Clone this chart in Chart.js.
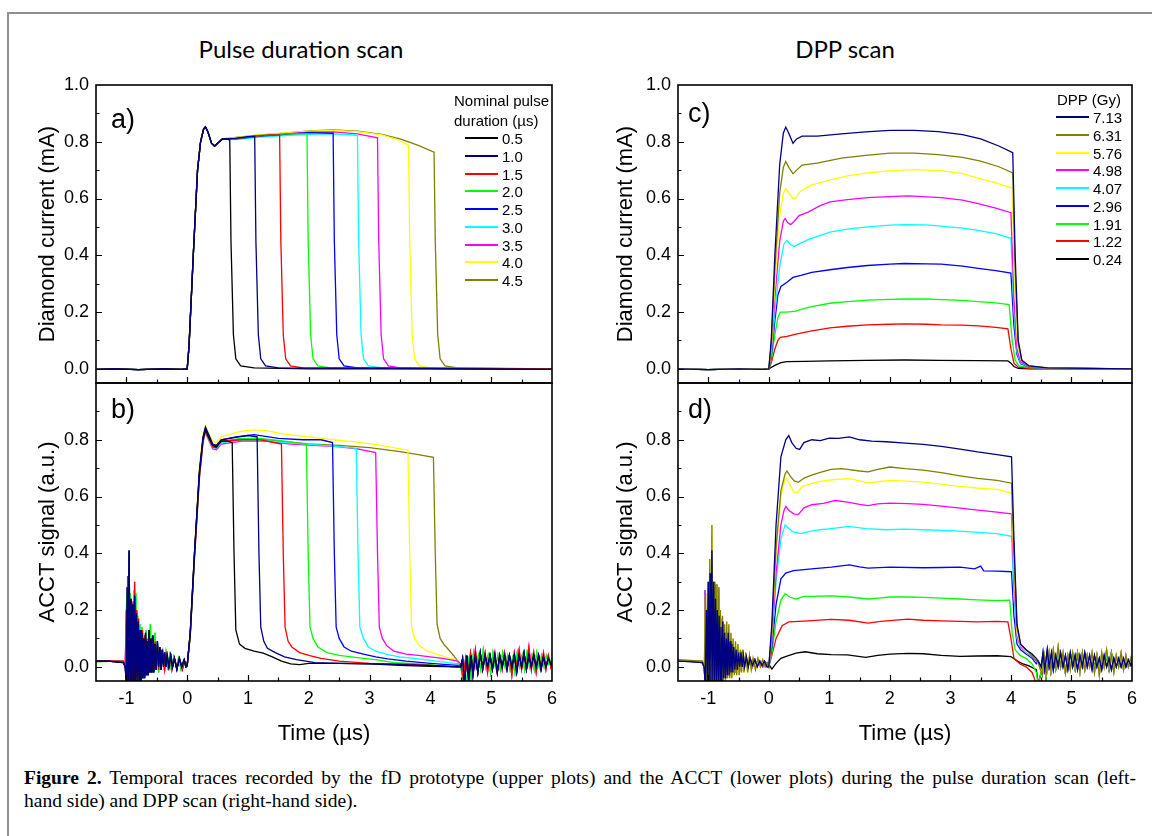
<!DOCTYPE html>
<html>
<head>
<meta charset="utf-8">
<script src="https://cdn.jsdelivr.net/npm/chart.js@4.4.1/dist/chart.umd.min.js"></script>
<style>
  body { margin: 0; background: #fff; }
  #fig { position: relative; width: 1152px; height: 836px; overflow: hidden; background: #fff; font-family: "Liberation Sans", Arial, sans-serif; color: #000; }
  .frame { position: absolute; left: 7px; top: 12px; width: 1200px; height: 900px; border: 2px solid #8f8f8f; }
  canvas { position: absolute; }
  .scan-title { position: absolute; font-family: Lato, "Open Sans", sans-serif; font-size: 24px; transform: translate(-50%, -50%); white-space: nowrap; }
  .panel-letter { position: absolute; font-size: 27px; transform: translateY(-50%); }
  .legend { position: absolute; font-size: 15px; }
  .legend .head { position: absolute; white-space: nowrap; transform: translateY(-50%); }
  .legend .row { position: absolute; height: 18px; display: flex; align-items: center; white-space: nowrap; }
  .legend .swatch { width: 33px; height: 2px; margin-right: 4px; }
  #caption { position: absolute; left: 24px; top: 766px; width: 1112px; font-family: "Liberation Serif", "Times New Roman", serif; font-size: 19.5px; line-height: 23px; }
  #caption .cap1 { text-align: justify; text-align-last: justify; white-space: nowrap; }
</style>
</head>
<body>
<div id="fig">
  <div class="frame"></div>
  <div class="scan-title" style="left:301px; top:48px;">Pulse duration scan</div>
  <div class="scan-title" style="left:845px; top:48px;">DPP scan</div>

  <canvas id="chartA" width="564" height="338" style="left:0px; top:65px;"></canvas>
  <canvas id="chartB" width="564" height="384" style="left:0px; top:363px;"></canvas>
  <canvas id="chartC" width="554" height="338" style="left:590px; top:65px;"></canvas>
  <canvas id="chartD" width="554" height="384" style="left:590px; top:363px;"></canvas>

  <div class="panel-letter" style="left:111px; top:119px;">a)</div>
  <div class="panel-letter" style="left:111px; top:409px;">b)</div>
  <div class="panel-letter" style="left:688px; top:113px;">c)</div>
  <div class="panel-letter" style="left:688px; top:409px;">d)</div>

  <div class="legend" id="legendA"></div>
  <div class="legend" id="legendC"></div>

  <div id="caption">
    <div class="cap1"><b>Figure 2.</b> Temporal traces recorded by the fD prototype (upper plots) and the ACCT (lower plots) during the pulse duration scan (left-</div>
    <div>hand side) and DPP scan (right-hand side).</div>
  </div>
</div>

<script>
// ---- legend entries ----
const durationLabels = ['0.5', '1.0', '1.5', '2.0', '2.5', '3.0', '3.5', '4.0', '4.5'];
const durationColors = ['#000000', '#000080', '#ff0000', '#00ff00', '#0000ff', '#00ffff', '#ff00ff', '#ffff00', '#808000'];
const dppLabels = ['7.13', '6.31', '5.76', '4.98', '4.07', '2.96', '1.91', '1.22', '0.24'];
const dppColors = ['#000080', '#808000', '#ffff00', '#ff00ff', '#00ffff', '#0000ff', '#00ff00', '#ff0000', '#000000'];

const xRange = [-1.5, 6];
const yRange = [-0.05, 1.0];

// ---- a) diamond current, pulse duration scan [time us, mA] ----
const baseA = [[-1.5,-0.002],[-1.2,0.0],[-0.8,-0.003],[-0.4,0.0],[-0.1,-0.002]];
const riseA = [[0.0,0.0],[0.03,0.08],[0.1,0.4],[0.17,0.7],[0.22,0.8],[0.27,0.845],[0.3,0.852],[0.34,0.835],[0.4,0.795],[0.45,0.785],[0.5,0.795],[0.58,0.81]];
const curA05 = [[0.66,0.809],[0.7,0.806],[0.72,0.45],[0.76,0.12],[0.8,0.035],[0.88,0.01],[1.1,0.003],[2.0,0.0],[4.0,0.0],[6.0,-0.002]];
const curA10 = [[0.8,0.812],[1.0,0.818],[1.11,0.82],[1.13,0.45],[1.17,0.12],[1.21,0.035],[1.29,0.01],[1.5,0.003],[3.0,0.002],[6.0,-0.002]];
const curA15 = [[0.8,0.812],[1.1,0.82],[1.35,0.824],[1.52,0.824],[1.54,0.45],[1.58,0.12],[1.62,0.035],[1.7,0.01],[1.9,0.003],[6.0,0.0]];
const curA20 = [[0.8,0.812],[1.2,0.822],[1.6,0.828],[1.97,0.828],[1.99,0.45],[2.03,0.12],[2.07,0.035],[2.15,0.01],[2.35,0.003],[6.0,0.0]];
const curA25 = [[0.8,0.81],[1.2,0.82],[1.6,0.826],[2.0,0.832],[2.4,0.83],[2.42,0.45],[2.46,0.12],[2.5,0.035],[2.58,0.01],[2.8,0.003],[6.0,0.0]];
const curA30 = [[0.8,0.808],[1.2,0.816],[1.6,0.822],[2.0,0.826],[2.4,0.828],[2.8,0.823],[2.82,0.45],[2.86,0.12],[2.9,0.035],[2.98,0.01],[3.2,0.003],[6.0,0.0]];
const curA35 = [[0.8,0.81],[1.2,0.82],[1.6,0.828],[2.0,0.834],[2.4,0.835],[2.8,0.828],[3.13,0.814],[3.15,0.45],[3.19,0.12],[3.23,0.035],[3.31,0.01],[3.5,0.003],[6.0,0.0]];
const curA40 = [[0.8,0.814],[1.2,0.824],[1.6,0.83],[2.0,0.837],[2.4,0.84],[2.8,0.836],[3.2,0.824],[3.45,0.808],[3.64,0.788],[3.66,0.45],[3.7,0.12],[3.74,0.035],[3.82,0.01],[4.0,0.003],[6.0,0.0]];
const curA45 = [[0.8,0.815],[1.2,0.824],[1.6,0.83],[2.0,0.838],[2.4,0.842],[2.8,0.837],[3.2,0.826],[3.5,0.81],[3.8,0.787],[4.06,0.763],[4.08,0.45],[4.12,0.12],[4.16,0.035],[4.24,0.01],[4.45,0.003],[6.0,0.0]];

// ---- b) ACCT signal, pulse duration scan [time us, a.u.] ----
const ringB1 = [[-1.5,0.02],[-1.3,0.02],[-1.05,0.015],[-1.02,0.0],[-1.0,-0.06],[-0.985,0.28],[-0.97,-0.06],[-0.955,0.41],[-0.94,-0.06],[-0.925,0.24],[-0.91,-0.06],[-0.895,0.22],[-0.88,-0.06],[-0.865,0.25],[-0.85,-0.06],[-0.835,0.19],[-0.82,-0.05],[-0.805,0.16],[-0.79,-0.05],[-0.775,0.13],[-0.76,-0.05],[-0.745,0.12],[-0.73,-0.04],[-0.715,0.1],[-0.7,-0.04],[-0.685,0.12],[-0.67,-0.03],[-0.655,0.09],[-0.64,-0.03],[-0.625,0.13],[-0.61,-0.02],[-0.595,0.1],[-0.58,-0.02],[-0.565,0.11],[-0.55,-0.02],[-0.53,0.08],[-0.51,-0.01],[-0.49,0.09],[-0.47,0.0],[-0.45,0.07],[-0.43,-0.01],[-0.41,0.06],[-0.39,0.0],[-0.37,0.05],[-0.35,0.0],[-0.33,0.04],[-0.3,0.0],[-0.27,0.04],[-0.24,0.0],[-0.21,0.03],[-0.17,-0.01],[-0.13,0.03],[-0.09,0.0],[-0.05,0.025],[-0.02,0.0]];
const ringB2 = [[-1.5,0.022],[-1.05,0.02],[-1.02,0.0],[-1.0,0.2],[-0.99,-0.06],[-0.98,0.32],[-0.965,-0.06],[-0.95,0.22],[-0.935,-0.06],[-0.92,0.2],[-0.905,-0.06],[-0.89,0.23],[-0.875,-0.06],[-0.865,0.3],[-0.85,-0.05],[-0.83,0.2],[-0.815,-0.05],[-0.8,0.17],[-0.785,-0.05],[-0.765,0.12],[-0.75,-0.04],[-0.735,0.13],[-0.72,-0.04],[-0.7,0.11],[-0.685,-0.03],[-0.665,0.1],[-0.65,-0.03],[-0.63,0.12],[-0.615,-0.02],[-0.6,0.09],[-0.585,-0.02],[-0.57,0.1],[-0.55,-0.01],[-0.53,0.09],[-0.51,-0.01],[-0.49,0.07],[-0.47,-0.01],[-0.45,0.06],[-0.43,0.0],[-0.4,0.05],[-0.37,-0.01],[-0.34,0.04],[-0.31,0.0],[-0.28,0.035],[-0.25,-0.01],[-0.21,0.03],[-0.17,0.0],[-0.12,0.025],[-0.08,-0.01],[-0.04,0.02]];
const ringB3 = [[-1.5,0.018],[-1.05,0.02],[-1.01,0.0],[-0.995,0.25],[-0.98,-0.06],[-0.965,0.3],[-0.95,-0.06],[-0.935,0.26],[-0.92,-0.06],[-0.905,0.2],[-0.89,-0.06],[-0.875,0.27],[-0.86,-0.06],[-0.845,0.26],[-0.83,-0.05],[-0.815,0.18],[-0.8,-0.05],[-0.78,0.15],[-0.765,-0.04],[-0.745,0.14],[-0.73,-0.04],[-0.71,0.1],[-0.695,-0.03],[-0.675,0.13],[-0.66,-0.03],[-0.64,0.1],[-0.625,-0.02],[-0.605,0.15],[-0.59,-0.02],[-0.57,0.11],[-0.55,-0.02],[-0.53,0.12],[-0.51,-0.01],[-0.49,0.08],[-0.47,-0.02],[-0.45,0.07],[-0.43,-0.01],[-0.41,0.06],[-0.38,-0.01],[-0.35,0.05],[-0.32,0.0],[-0.29,0.04],[-0.26,-0.01],[-0.22,0.035],[-0.18,0.0],[-0.14,0.03],[-0.1,-0.01],[-0.06,0.02],[-0.02,0.0]];
const acctB05 = [[0.0,0.005],[0.05,0.12],[0.12,0.4],[0.2,0.68],[0.26,0.8],[0.3,0.835],[0.35,0.81],[0.42,0.78],[0.48,0.775],[0.56,0.795],[0.66,0.795],[0.74,0.79],[0.77,0.4],[0.8,0.13],[0.86,0.08],[0.95,0.065],[1.1,0.055],[1.25,0.048],[1.4,0.035],[1.55,0.02],[1.7,0.01],[1.85,0.008],[2.0,0.012],[2.5,0.012],[3.0,0.01],[3.5,0.005],[4.0,0.002],[4.45,0.0]];
const acctB10 = [[0.0,0.005],[0.05,0.12],[0.12,0.4],[0.2,0.69],[0.26,0.81],[0.3,0.845],[0.35,0.82],[0.42,0.785],[0.48,0.78],[0.56,0.8],[0.7,0.805],[0.85,0.81],[1.0,0.815],[1.15,0.81],[1.18,0.4],[1.21,0.14],[1.26,0.09],[1.32,0.065],[1.45,0.05],[1.6,0.035],[1.8,0.025],[2.1,0.015],[2.5,0.012],[3.0,0.01],[3.5,0.008],[4.0,0.005],[4.45,0.0]];
const acctB15 = [[0.0,0.005],[0.05,0.11],[0.12,0.39],[0.2,0.67],[0.26,0.8],[0.3,0.83],[0.35,0.805],[0.42,0.775],[0.48,0.772],[0.56,0.795],[0.9,0.8],[1.2,0.8],[1.55,0.785],[1.58,0.4],[1.61,0.14],[1.66,0.09],[1.72,0.07],[1.85,0.05],[2.0,0.04],[2.2,0.03],[2.5,0.02],[3.0,0.012],[3.5,0.01],[4.0,0.005],[4.45,0.0]];
const acctB20 = [[0.0,0.005],[0.05,0.11],[0.12,0.39],[0.2,0.67],[0.26,0.8],[0.3,0.832],[0.35,0.806],[0.42,0.776],[0.48,0.774],[0.56,0.795],[0.9,0.805],[1.2,0.805],[1.6,0.795],[1.96,0.785],[1.99,0.4],[2.02,0.14],[2.07,0.1],[2.15,0.07],[2.3,0.05],[2.5,0.04],[2.7,0.035],[2.9,0.03],[3.1,0.025],[3.4,0.015],[3.8,0.01],[4.45,0.0]];
const acctB25 = [[0.0,0.005],[0.05,0.12],[0.12,0.4],[0.2,0.68],[0.26,0.805],[0.3,0.84],[0.35,0.815],[0.42,0.782],[0.48,0.778],[0.56,0.8],[0.8,0.81],[1.1,0.818],[1.5,0.805],[1.9,0.8],[2.2,0.8],[2.39,0.79],[2.42,0.4],[2.45,0.14],[2.5,0.1],[2.58,0.07],[2.7,0.055],[2.9,0.045],[3.1,0.035],[3.3,0.028],[3.6,0.02],[4.0,0.012],[4.45,0.005]];
const acctB30 = [[0.0,0.005],[0.05,0.11],[0.12,0.39],[0.2,0.67],[0.26,0.795],[0.3,0.828],[0.35,0.803],[0.42,0.773],[0.48,0.77],[0.56,0.79],[0.9,0.8],[1.3,0.797],[1.7,0.788],[2.1,0.783],[2.5,0.776],[2.78,0.77],[2.81,0.4],[2.84,0.14],[2.9,0.1],[2.98,0.07],[3.1,0.055],[3.3,0.043],[3.5,0.035],[3.8,0.028],[4.1,0.02],[4.45,0.01]];
const acctB35 = [[0.0,0.005],[0.05,0.11],[0.12,0.38],[0.2,0.66],[0.26,0.79],[0.3,0.825],[0.35,0.8],[0.42,0.768],[0.48,0.765],[0.56,0.785],[0.9,0.795],[1.3,0.795],[1.7,0.785],[2.1,0.78],[2.5,0.775],[2.8,0.768],[3.1,0.755],[3.13,0.4],[3.16,0.14],[3.21,0.1],[3.28,0.075],[3.4,0.055],[3.6,0.045],[3.8,0.04],[4.0,0.035],[4.2,0.03],[4.45,0.02]];
const acctB40 = [[0.0,0.005],[0.05,0.12],[0.12,0.41],[0.2,0.7],[0.26,0.82],[0.3,0.85],[0.35,0.825],[0.42,0.795],[0.48,0.79],[0.56,0.81],[0.7,0.82],[0.9,0.83],[1.1,0.835],[1.3,0.832],[1.6,0.82],[2.0,0.81],[2.4,0.8],[2.8,0.792],[3.2,0.78],[3.45,0.77],[3.63,0.764],[3.66,0.4],[3.69,0.14],[3.74,0.1],[3.82,0.075],[3.95,0.055],[4.1,0.045],[4.25,0.035],[4.4,0.025],[4.48,0.015]];
const acctB45 = [[0.0,0.005],[0.05,0.11],[0.12,0.39],[0.2,0.67],[0.26,0.795],[0.3,0.83],[0.35,0.805],[0.42,0.775],[0.48,0.772],[0.56,0.79],[0.8,0.8],[1.1,0.805],[1.5,0.795],[2.0,0.785],[2.5,0.78],[3.0,0.772],[3.5,0.758],[3.8,0.748],[4.05,0.738],[4.08,0.4],[4.11,0.15],[4.16,0.1],[4.22,0.08],[4.3,0.06],[4.38,0.04],[4.45,0.02],[4.48,0.0]];
const noiseB1 = [[4.5,0.0],[4.53,0.03],[4.56,-0.06],[4.6,0.04],[4.63,-0.05],[4.67,0.04],[4.7,-0.03],[4.74,0.04],[4.78,-0.02],[4.82,0.05],[4.86,-0.01],[4.9,0.04],[4.94,0.0],[4.98,0.04],[5.02,-0.01],[5.06,0.04],[5.1,-0.02],[5.14,0.04],[5.18,0.0],[5.22,0.04],[5.26,-0.01],[5.3,0.04],[5.34,0.0],[5.38,0.04],[5.42,-0.02],[5.46,0.04],[5.5,0.0],[5.54,0.05],[5.58,-0.01],[5.62,0.04],[5.66,0.0],[5.7,0.04],[5.74,0.0],[5.78,0.04],[5.82,-0.01],[5.86,0.035],[5.9,0.0],[5.94,0.03],[5.98,0.01],[6.0,0.02]];
const noiseB2 = [[4.5,0.01],[4.54,-0.04],[4.58,0.03],[4.62,-0.03],[4.66,0.05],[4.7,-0.01],[4.74,0.06],[4.78,-0.02],[4.82,0.04],[4.86,0.0],[4.9,0.05],[4.94,-0.02],[4.98,0.04],[5.02,0.0],[5.06,0.05],[5.1,-0.02],[5.14,0.04],[5.18,-0.01],[5.22,0.05],[5.26,0.0],[5.3,0.04],[5.34,-0.03],[5.38,0.05],[5.42,0.0],[5.46,0.06],[5.5,-0.01],[5.54,0.04],[5.58,0.0],[5.62,0.07],[5.66,-0.01],[5.7,0.05],[5.74,-0.02],[5.78,0.04],[5.82,0.0],[5.86,0.05],[5.9,-0.01],[5.94,0.04],[5.98,0.0],[6.0,0.02]];
const noiseB3 = [[4.5,0.0],[4.55,-0.06],[4.6,-0.05],[4.63,0.02],[4.67,-0.04],[4.71,0.05],[4.75,0.0],[4.79,0.04],[4.83,-0.01],[4.87,0.06],[4.91,0.0],[4.95,0.04],[4.99,-0.02],[5.03,0.05],[5.07,0.0],[5.11,0.04],[5.15,-0.01],[5.19,0.05],[5.23,0.0],[5.27,0.04],[5.31,-0.01],[5.35,0.03],[5.39,-0.02],[5.43,0.05],[5.47,0.0],[5.51,0.04],[5.55,-0.01],[5.59,0.05],[5.63,0.0],[5.67,0.04],[5.71,-0.01],[5.75,0.05],[5.79,0.0],[5.83,0.04],[5.87,0.0],[5.91,0.04],[5.95,0.01],[6.0,0.03]];

// ---- c) diamond current, DPP scan [time us, mA] ----
const baseC = [[-1.5,0.0],[-1.0,-0.003],[-0.5,0.0],[-0.1,-0.002]];
const curC713 = [[0.0,0.0],[0.04,0.1],[0.1,0.4],[0.18,0.72],[0.24,0.83],[0.28,0.852],[0.33,0.83],[0.4,0.795],[0.46,0.81],[0.55,0.82],[0.8,0.82],[1.2,0.828],[1.6,0.835],[2.0,0.84],[2.4,0.84],[2.8,0.836],[3.2,0.825],[3.5,0.81],[3.8,0.785],[4.03,0.762],[4.07,0.4],[4.12,0.1],[4.18,0.03],[4.3,0.01],[4.6,0.003],[6.0,0.0]];
const curC631 = [[0.0,0.0],[0.04,0.08],[0.1,0.35],[0.18,0.62],[0.24,0.71],[0.28,0.73],[0.33,0.71],[0.4,0.687],[0.46,0.7],[0.55,0.718],[0.8,0.725],[1.2,0.742],[1.6,0.752],[2.0,0.76],[2.4,0.76],[2.8,0.755],[3.2,0.745],[3.5,0.732],[3.8,0.712],[4.03,0.69],[4.07,0.35],[4.12,0.09],[4.18,0.03],[4.3,0.01],[4.6,0.003],[6.0,0.0]];
const curC576 = [[0.0,0.0],[0.04,0.07],[0.1,0.3],[0.18,0.54],[0.24,0.62],[0.28,0.635],[0.33,0.62],[0.4,0.6],[0.44,0.6],[0.52,0.625],[0.7,0.647],[1.0,0.665],[1.3,0.68],[1.63,0.69],[2.0,0.698],[2.4,0.702],[2.85,0.698],[3.2,0.688],[3.46,0.672],[3.75,0.655],[4.02,0.637],[4.06,0.3],[4.11,0.08],[4.17,0.03],[4.3,0.01],[4.6,0.003],[6.0,0.0]];
const curC498 = [[0.0,0.0],[0.04,0.06],[0.1,0.25],[0.18,0.45],[0.24,0.52],[0.27,0.53],[0.31,0.515],[0.36,0.508],[0.42,0.52],[0.5,0.54],[0.65,0.552],[0.85,0.575],[1.01,0.588],[1.3,0.596],[1.63,0.603],[2.0,0.607],[2.3,0.609],[2.85,0.603],[3.2,0.594],[3.46,0.582],[3.75,0.566],[4.0,0.55],[4.05,0.25],[4.1,0.07],[4.16,0.025],[4.3,0.008],[4.6,0.002],[6.0,0.0]];
const curC407 = [[0.0,0.0],[0.04,0.05],[0.1,0.2],[0.18,0.36],[0.25,0.44],[0.3,0.452],[0.35,0.44],[0.42,0.431],[0.5,0.44],[0.65,0.455],[0.85,0.47],[1.01,0.482],[1.3,0.492],[1.63,0.5],[2.0,0.506],[2.24,0.508],[2.6,0.507],[2.85,0.503],[3.2,0.496],[3.46,0.488],[3.75,0.476],[4.0,0.46],[4.05,0.2],[4.1,0.06],[4.16,0.02],[4.3,0.007],[4.6,0.002],[6.0,0.0]];
const curC296 = [[0.0,0.0],[0.04,0.04],[0.1,0.17],[0.15,0.26],[0.2,0.29],[0.3,0.305],[0.4,0.322],[0.53,0.329],[0.71,0.34],[1.01,0.349],[1.3,0.357],[1.63,0.364],[2.0,0.369],[2.24,0.371],[2.6,0.37],[2.85,0.369],[3.2,0.362],[3.46,0.354],[3.75,0.346],[4.0,0.337],[4.05,0.15],[4.1,0.05],[4.16,0.018],[4.3,0.006],[4.6,0.002],[6.0,0.0]];
const curC191 = [[0.0,0.0],[0.04,0.03],[0.1,0.12],[0.15,0.18],[0.19,0.2],[0.3,0.2],[0.45,0.203],[0.55,0.21],[0.71,0.219],[1.01,0.231],[1.3,0.237],[1.63,0.242],[2.0,0.245],[2.24,0.246],[2.6,0.246],[2.85,0.244],[3.2,0.241],[3.46,0.237],[3.75,0.232],[3.97,0.226],[4.02,0.1],[4.07,0.03],[4.13,0.01],[4.3,0.004],[4.6,0.001],[6.0,0.0]];
const curC122 = [[0.0,0.0],[0.04,0.02],[0.1,0.07],[0.15,0.1],[0.19,0.111],[0.3,0.114],[0.45,0.122],[0.71,0.134],[1.01,0.144],[1.3,0.15],[1.63,0.155],[2.0,0.157],[2.24,0.158],[2.6,0.157],[2.85,0.155],[3.2,0.154],[3.46,0.151],[3.75,0.146],[3.95,0.141],[4.0,0.07],[4.05,0.02],[4.12,0.006],[4.3,0.002],[6.0,0.0]];
const curC024 = [[0.0,0.0],[0.1,0.012],[0.2,0.022],[0.3,0.025],[0.6,0.026],[1.0,0.028],[1.6,0.03],[2.24,0.031],[2.8,0.03],[3.46,0.029],[3.95,0.028],[4.0,0.02],[4.05,0.008],[4.12,0.002],[4.3,0.0],[6.0,0.0]];

// ---- d) ACCT signal, DPP scan [time us, a.u.] ----
const ringD1 = [[-1.5,0.02],[-1.3,0.018],[-1.1,0.015],[-1.07,0.0],[-1.05,-0.06],[-1.03,0.2],[-1.015,-0.06],[-1.0,0.3],[-0.985,-0.06],[-0.97,0.33],[-0.955,-0.06],[-0.94,0.41],[-0.925,-0.06],[-0.91,0.3],[-0.895,-0.06],[-0.88,0.24],[-0.865,-0.06],[-0.85,0.2],[-0.835,-0.05],[-0.82,0.18],[-0.805,-0.05],[-0.79,0.14],[-0.775,-0.05],[-0.76,0.16],[-0.745,-0.04],[-0.73,0.12],[-0.715,-0.04],[-0.7,0.1],[-0.685,-0.03],[-0.67,0.12],[-0.655,-0.03],[-0.64,0.09],[-0.625,-0.02],[-0.61,0.08],[-0.595,-0.02],[-0.58,0.07],[-0.56,-0.01],[-0.54,0.06],[-0.52,-0.01],[-0.5,0.05],[-0.48,0.0],[-0.46,0.05],[-0.44,0.0],[-0.42,0.04],[-0.4,0.0],[-0.37,0.035],[-0.34,0.0],[-0.31,0.03],[-0.27,0.005],[-0.23,0.025],[-0.19,0.0],[-0.15,0.02],[-0.11,0.005],[-0.07,0.02],[-0.03,0.0]];
const ringD2 = [[-1.5,0.025],[-1.1,0.02],[-1.065,0.0],[-1.045,0.26],[-1.03,-0.06],[-1.01,0.22],[-0.995,-0.06],[-0.975,0.38],[-0.96,-0.06],[-0.94,0.5],[-0.925,-0.06],[-0.905,0.3],[-0.89,-0.06],[-0.87,0.29],[-0.855,-0.06],[-0.835,0.28],[-0.82,-0.06],[-0.8,0.2],[-0.785,-0.05],[-0.765,0.18],[-0.75,-0.05],[-0.73,0.15],[-0.715,-0.05],[-0.695,0.16],[-0.68,-0.04],[-0.66,0.15],[-0.645,-0.04],[-0.625,0.12],[-0.61,-0.04],[-0.59,0.1],[-0.57,-0.03],[-0.55,0.09],[-0.53,-0.03],[-0.51,0.08],[-0.49,-0.03],[-0.47,0.06],[-0.45,-0.02],[-0.43,0.06],[-0.41,-0.02],[-0.38,0.05],[-0.35,-0.02],[-0.32,0.04],[-0.29,-0.01],[-0.26,0.03],[-0.22,-0.01],[-0.18,0.03],[-0.14,0.0],[-0.1,0.025],[-0.06,0.0],[-0.02,0.015]];
const ringD3 = [[-1.5,0.02],[-1.1,0.02],[-1.07,0.0],[-1.055,0.27],[-1.04,-0.06],[-1.02,0.18],[-1.005,-0.06],[-0.99,0.25],[-0.975,-0.06],[-0.96,0.2],[-0.945,-0.06],[-0.925,0.26],[-0.91,-0.06],[-0.89,0.22],[-0.875,-0.06],[-0.86,0.29],[-0.845,-0.06],[-0.83,0.28],[-0.815,-0.05],[-0.795,0.17],[-0.78,-0.05],[-0.76,0.13],[-0.745,-0.04],[-0.725,0.12],[-0.71,-0.04],[-0.69,0.11],[-0.675,-0.03],[-0.655,0.1],[-0.64,-0.03],[-0.62,0.08],[-0.6,-0.02],[-0.58,0.07],[-0.56,-0.02],[-0.54,0.06],[-0.52,-0.01],[-0.5,0.05],[-0.47,0.0],[-0.44,0.045],[-0.41,0.0],[-0.38,0.035],[-0.35,0.0],[-0.31,0.03],[-0.27,0.0],[-0.23,0.025],[-0.19,0.005],[-0.15,0.02],[-0.1,0.0],[-0.05,0.015]];
const acctD713 = [[0.0,0.0],[0.05,0.15],[0.12,0.5],[0.2,0.74],[0.28,0.8],[0.33,0.815],[0.38,0.79],[0.45,0.77],[0.51,0.766],[0.58,0.79],[0.71,0.8],[0.85,0.797],[1.0,0.806],[1.15,0.805],[1.33,0.81],[1.5,0.8],[1.7,0.795],[1.94,0.793],[2.2,0.789],[2.55,0.784],[2.85,0.777],[3.16,0.767],[3.45,0.757],[3.77,0.748],[4.01,0.74],[4.05,0.45],[4.1,0.15],[4.16,0.08],[4.25,0.06],[4.35,0.045],[4.42,0.03]];
const acctD631 = [[0.0,0.0],[0.05,0.13],[0.12,0.42],[0.2,0.62],[0.27,0.68],[0.3,0.69],[0.36,0.67],[0.42,0.655],[0.49,0.65],[0.58,0.665],[0.71,0.675],[0.85,0.685],[1.03,0.696],[1.2,0.698],[1.33,0.695],[1.5,0.69],[1.64,0.687],[1.8,0.696],[2.0,0.704],[2.25,0.698],[2.55,0.693],[2.85,0.684],[3.16,0.673],[3.45,0.664],[3.77,0.657],[4.01,0.647],[4.05,0.4],[4.1,0.14],[4.16,0.08],[4.25,0.06],[4.35,0.04],[4.42,0.02]];
const acctD576 = [[0.0,0.0],[0.05,0.12],[0.12,0.4],[0.2,0.6],[0.26,0.655],[0.29,0.665],[0.35,0.64],[0.42,0.615],[0.47,0.613],[0.55,0.635],[0.71,0.646],[0.9,0.655],[1.1,0.66],[1.33,0.663],[1.5,0.655],[1.64,0.648],[1.8,0.652],[2.0,0.657],[2.3,0.654],[2.55,0.651],[2.85,0.644],[3.16,0.636],[3.45,0.63],[3.77,0.625],[4.01,0.612],[4.05,0.35],[4.1,0.12],[4.16,0.075],[4.25,0.055],[4.35,0.04],[4.42,0.025]];
const acctD498 = [[0.0,0.0],[0.05,0.1],[0.12,0.33],[0.2,0.5],[0.25,0.55],[0.28,0.565],[0.34,0.55],[0.42,0.538],[0.49,0.537],[0.58,0.56],[0.71,0.571],[0.9,0.576],[1.1,0.586],[1.3,0.58],[1.5,0.572],[1.64,0.568],[1.8,0.574],[2.0,0.577],[2.3,0.575],[2.55,0.572],[2.85,0.566],[3.16,0.559],[3.45,0.552],[3.77,0.545],[4.01,0.539],[4.05,0.3],[4.1,0.11],[4.16,0.07],[4.25,0.055],[4.35,0.035],[4.42,0.02]];
const acctD407 = [[0.0,0.0],[0.05,0.09],[0.12,0.3],[0.2,0.45],[0.27,0.5],[0.32,0.49],[0.4,0.475],[0.53,0.469],[0.7,0.478],[0.85,0.483],[1.03,0.487],[1.33,0.495],[1.6,0.487],[1.94,0.483],[2.25,0.485],[2.55,0.483],[2.85,0.481],[3.16,0.478],[3.45,0.474],[3.77,0.469],[4.01,0.46],[4.05,0.25],[4.1,0.1],[4.16,0.07],[4.25,0.05],[4.35,0.035],[4.42,0.02]];
const acctD296 = [[0.0,0.0],[0.05,0.07],[0.12,0.22],[0.2,0.31],[0.28,0.33],[0.41,0.339],[0.71,0.345],[1.03,0.351],[1.33,0.359],[1.5,0.352],[1.64,0.348],[2.0,0.351],[2.55,0.349],[2.85,0.35],[3.16,0.351],[3.4,0.345],[3.5,0.355],[3.55,0.338],[3.77,0.337],[4.01,0.335],[4.05,0.18],[4.1,0.08],[4.16,0.06],[4.25,0.045],[4.35,0.03],[4.42,0.01]];
const acctD191 = [[0.0,0.0],[0.05,0.05],[0.12,0.16],[0.2,0.235],[0.27,0.258],[0.35,0.245],[0.45,0.239],[0.58,0.248],[0.71,0.248],[1.03,0.25],[1.33,0.246],[1.64,0.239],[1.85,0.243],[2.0,0.246],[2.3,0.246],[2.55,0.245],[2.85,0.242],[3.16,0.239],[3.45,0.236],[3.77,0.233],[3.98,0.235],[4.02,0.12],[4.07,0.06],[4.15,0.04],[4.25,0.03],[4.35,0.01],[4.42,-0.02]];
const acctD122 = [[0.0,0.0],[0.05,0.04],[0.12,0.1],[0.22,0.145],[0.33,0.158],[0.5,0.16],[0.71,0.163],[1.03,0.167],[1.33,0.164],[1.64,0.154],[1.85,0.16],[2.0,0.163],[2.3,0.168],[2.55,0.164],[2.85,0.162],[3.16,0.16],[3.45,0.158],[3.77,0.16],[3.95,0.158],[4.0,0.1],[4.05,0.03],[4.15,0.01],[4.25,0.0],[4.35,-0.02],[4.42,-0.06]];
const acctD024 = [[0.0,0.01],[0.05,-0.008],[0.12,0.012],[0.2,0.03],[0.3,0.038],[0.45,0.048],[0.6,0.053],[0.8,0.046],[1.03,0.043],[1.3,0.042],[1.6,0.033],[1.8,0.04],[2.0,0.045],[2.3,0.047],[2.55,0.046],[2.85,0.04],[3.16,0.037],[3.45,0.038],[3.77,0.039],[4.0,0.036],[4.1,0.021],[4.2,0.01],[4.3,0.003],[4.42,-0.01]];
const noiseD1 = [[4.45,0.02],[4.5,0.0],[4.53,0.05],[4.56,-0.01],[4.6,0.06],[4.63,0.0],[4.67,0.05],[4.7,-0.01],[4.74,0.04],[4.78,0.0],[4.82,0.05],[4.86,0.0],[4.9,0.04],[4.94,-0.01],[4.98,0.05],[5.02,0.0],[5.06,0.04],[5.1,-0.01],[5.14,0.04],[5.18,0.0],[5.22,0.05],[5.26,0.0],[5.3,0.04],[5.34,-0.01],[5.38,0.04],[5.42,0.0],[5.46,0.03],[5.5,-0.01],[5.54,0.04],[5.58,0.0],[5.62,0.03],[5.66,-0.01],[5.7,0.03],[5.74,0.0],[5.78,0.03],[5.82,0.0],[5.86,0.03],[5.9,0.0],[5.94,0.025],[5.98,0.005],[6.0,0.015]];
const noiseD2 = [[4.45,0.015],[4.52,-0.03],[4.55,0.04],[4.59,-0.02],[4.63,0.05],[4.66,-0.01],[4.7,0.06],[4.74,0.0],[4.78,0.07],[4.82,0.0],[4.86,0.05],[4.9,-0.02],[4.94,0.04],[4.98,-0.01],[5.02,0.05],[5.06,0.0],[5.1,0.04],[5.14,-0.02],[5.18,0.05],[5.22,-0.01],[5.26,0.04],[5.3,0.0],[5.34,0.05],[5.38,-0.02],[5.42,0.04],[5.46,-0.03],[5.5,0.05],[5.54,0.0],[5.58,0.06],[5.62,0.0],[5.66,0.04],[5.7,-0.02],[5.74,0.04],[5.78,0.0],[5.82,0.05],[5.86,-0.01],[5.9,0.04],[5.94,0.0],[5.98,0.03],[6.0,0.01]];
const noiseD3 = [[4.45,-0.06],[4.5,-0.02],[4.54,0.03],[4.58,-0.04],[4.62,0.04],[4.66,-0.02],[4.7,0.03],[4.74,-0.01],[4.78,0.04],[4.82,0.0],[4.86,0.03],[4.9,-0.02],[4.94,0.04],[4.98,0.0],[5.02,0.03],[5.06,-0.01],[5.1,0.05],[5.14,0.0],[5.18,0.03],[5.22,-0.01],[5.26,0.04],[5.3,0.0],[5.34,0.03],[5.38,0.0],[5.42,0.04],[5.46,-0.01],[5.5,0.03],[5.54,0.0],[5.58,0.04],[5.62,-0.01],[5.66,0.05],[5.7,0.0],[5.74,0.03],[5.78,0.01],[5.82,0.04],[5.86,0.0],[5.9,0.03],[5.94,0.0],[5.98,0.02],[6.0,0.01]];

// traces per panel, in legend order
const tracesA = [curA05, curA10, curA15, curA20, curA25, curA30, curA35, curA40, curA45].map(t => baseA.concat(riseA, t));
const tracesB = [
  ringB1.concat(acctB05, noiseB1), ringB1.concat(acctB10, noiseB1), ringB2.concat(acctB15, noiseB2),
  ringB3.concat(acctB20, noiseB3), ringB1.concat(acctB25, noiseB1), ringB3.concat(acctB30, noiseB3),
  ringB2.concat(acctB35, noiseB2), ringB3.concat(acctB40, noiseB3), ringB3.concat(acctB45, noiseB3)
];
const tracesC = [curC713, curC631, curC576, curC498, curC407, curC296, curC191, curC122, curC024].map(t => baseC.concat(t));
const tracesD = [
  ringD1.concat(acctD713, noiseD1), ringD2.concat(acctD631, noiseD2), ringD2.concat(acctD576, noiseD2),
  ringD3.concat(acctD498, noiseD2), ringD3.concat(acctD407, noiseD2), ringD1.concat(acctD296, noiseD1),
  ringD3.concat(acctD191, noiseD3), ringD3.concat(acctD122, noiseD3), ringD3.concat(acctD024, noiseD3)
];

Chart.defaults.font.family = '"Liberation Sans", Arial, sans-serif';
Chart.defaults.color = '#000';

// box frame + inward major/minor ticks on left and bottom
const axisBox = {
  id: 'axisBox',
  afterDatasetsDraw(chart) {
    const { ctx, chartArea: area } = chart;
    const xs = chart.scales.x, ys = chart.scales.y;
    ctx.save();
    ctx.strokeStyle = '#000';
    ctx.lineWidth = 1.2;
    ctx.beginPath();
    xs.ticks.forEach(t => {
      [[t.value, 6], [t.value + 0.5, 3.5], [t.value - 0.5, 3.5]].forEach(([v, len]) => {
        if (v <= xs.min || v >= xs.max) return;
        const px = Math.round(xs.getPixelForValue(v)) + 0.5;
        ctx.moveTo(px, area.bottom);
        ctx.lineTo(px, area.bottom - len);
      });
    });
    ys.ticks.forEach(t => {
      [[t.value, 6], [t.value + 0.1, 3.5]].forEach(([v, len]) => {
        if (v <= ys.min || v >= ys.max - 1e-6) return;
        const py = Math.round(ys.getPixelForValue(v)) + 0.5;
        ctx.moveTo(area.left, py);
        ctx.lineTo(area.left + len, py);
      });
    });
    ctx.stroke();
    ctx.lineWidth = 1.6;
    ctx.strokeRect(area.left, area.top, area.right - area.left, area.bottom - area.top);
    ctx.restore();
  }
};

function makePanel(id, traces, colors, opt) {
  const datasets = traces.map((tr, i) => ({
    data: tr.map(p => ({ x: p[0], y: p[1] })),
    borderColor: colors[i],
    borderWidth: 1.3,
    pointRadius: 0,
    tension: 0,
    order: colors[i] === '#000080' ? 0 : i + 1
  }));
  return new Chart(document.getElementById(id), {
    type: 'line',
    data: { datasets },
    plugins: [axisBox],
    options: {
      responsive: false,
      animation: false,
      events: [],
      layout: { padding: { left: opt.padLeft, right: 12, top: 20, bottom: 0 } },
      plugins: { legend: { display: false }, tooltip: { enabled: false } },
      scales: {
        x: {
          type: 'linear',
          min: xRange[0],
          max: xRange[1],
          ticks: { stepSize: 1, includeBounds: false, display: opt.showX, font: { size: 18 }, padding: 7, maxRotation: 0, autoSkip: false, callback: v => String(v) },
          grid: { display: false, drawTicks: false },
          border: { display: false },
          title: { display: opt.showX, text: 'Time (\u00b5s)', font: { size: 22 }, padding: 0 },
          afterFit: s => { s.height = opt.showX ? 66 : 20; }
        },
        y: {
          min: yRange[0],
          max: yRange[1],
          ticks: {
            stepSize: 0.2,
            includeBounds: false,
            font: { size: 18 },
            padding: 7,
            callback: v => (opt.hideTop && v > 0.95) ? '' : v.toFixed(1)
          },
          grid: { display: false, drawTicks: false },
          border: { display: false },
          title: { display: true, text: opt.yTitle, font: { size: 22 }, padding: 0 },
          afterFit: s => { s.width = opt.yWidth; }
        }
      }
    }
  });
}

makePanel('chartA', tracesA, durationColors, { padLeft: 35, yWidth: 61, showX: false, hideTop: false, yTitle: 'Diamond current (mA)' });
makePanel('chartB', tracesB, durationColors, { padLeft: 35, yWidth: 61, showX: true, hideTop: true, yTitle: 'ACCT signal (a.u.)' });
makePanel('chartC', tracesC, dppColors, { padLeft: 23, yWidth: 65, showX: false, hideTop: false, yTitle: 'Diamond current (mA)' });
makePanel('chartD', tracesD, dppColors, { padLeft: 23, yWidth: 65, showX: true, hideTop: true, yTitle: 'ACCT signal (a.u.)' });

// legends (html, placed inside the top panels)
function buildLegend(elId, heads, headX, headY, labels, colors, rowX, rowY0, rowStep) {
  const box = document.getElementById(elId);
  heads.forEach((h, i) => {
    const d = document.createElement('div');
    d.className = 'head';
    d.style.left = headX + 'px';
    d.style.top = (headY + i * 20) + 'px';
    d.textContent = h;
    box.appendChild(d);
  });
  labels.forEach((lab, i) => {
    const row = document.createElement('div');
    row.className = 'row';
    row.style.left = rowX + 'px';
    row.style.top = Math.round(rowY0 + i * rowStep - 9) + 'px';
    const sw = document.createElement('span');
    sw.className = 'swatch';
    sw.style.background = colors[i];
    const tx = document.createElement('span');
    tx.textContent = lab;
    row.appendChild(sw);
    row.appendChild(tx);
    box.appendChild(row);
  });
}
buildLegend('legendA', ['Nominal pulse', 'duration (\u00b5s)'], 454, 100, durationLabels, durationColors, 465, 138, 17.75);
buildLegend('legendC', ['DPP (Gy)'], 1057, 99, dppLabels, dppColors, 1056, 117, 17.75);
</script>
</body>
</html>
